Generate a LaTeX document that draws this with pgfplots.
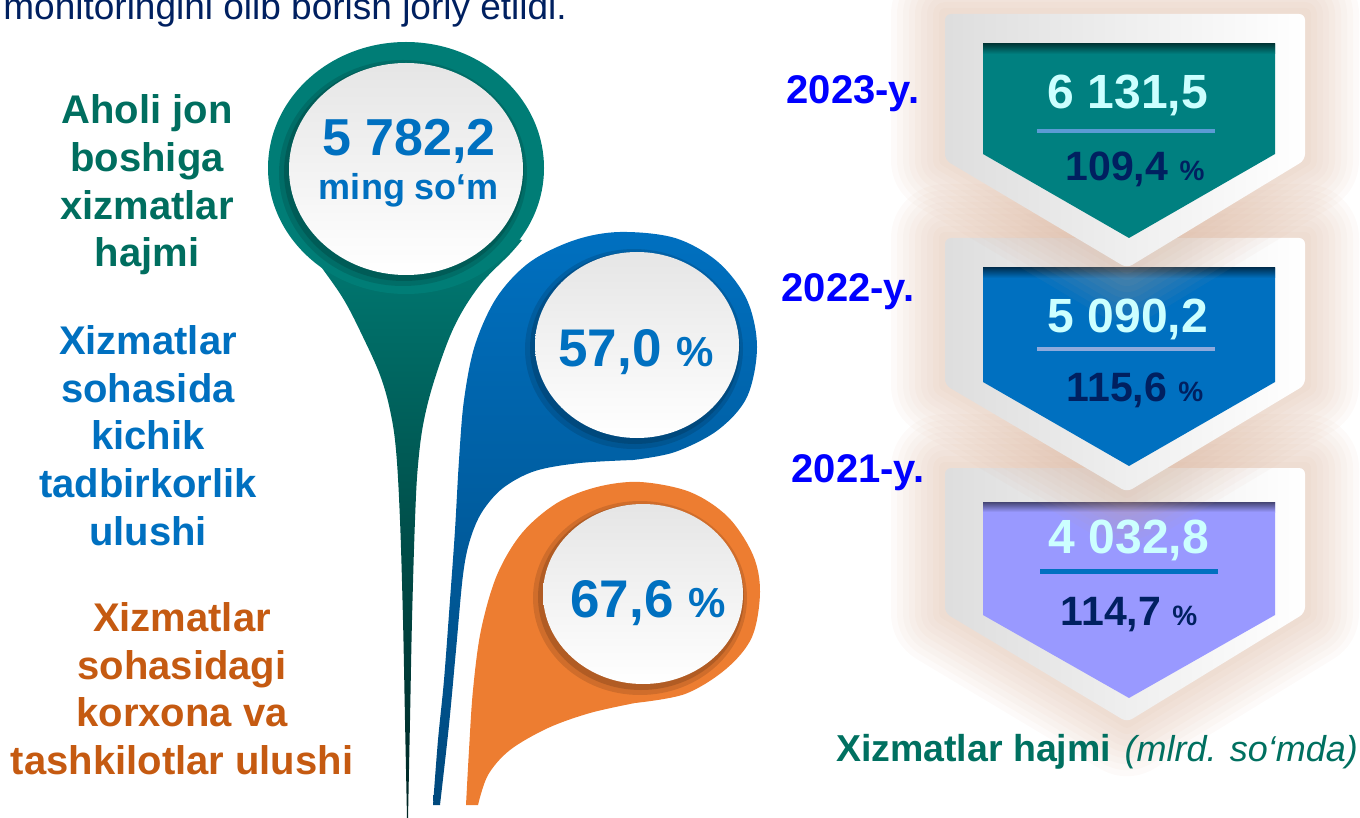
\documentclass[border=0pt]{standalone}
\usepackage{pgfplots}
\pgfplotsset{compat=1.18}
\usepackage{fontspec}
\setmainfont{Liberation Sans}

\definecolor{tealpin}{HTML}{007D76}
\definecolor{tealtxt}{HTML}{006E5F}
\definecolor{tealbox}{HTML}{008080}
\definecolor{capteal}{HTML}{007060}
\definecolor{bluepin}{HTML}{0070C0}
\definecolor{orangepin}{HTML}{ED7D31}
\definecolor{orangetxt}{HTML}{C55A11}
\definecolor{lavender}{HTML}{9999FF}
\definecolor{cyantxt}{HTML}{CCFFFF}
\definecolor{navy}{HTML}{002060}
\definecolor{yearblue}{HTML}{0000FF}
\definecolor{glowc}{HTML}{D2A488}
\definecolor{lineA}{HTML}{5B9BD5}
\definecolor{lineB}{HTML}{8FAADC}

% one line of a left-hand label
\newcommand\lbl[4]{\node[anchor=base, inner sep=0pt, text=#3, font=\bfseries\fontsize{20}{24}\selectfont] at (axis cs:#1,#2) {#4};}

% badge: frame top, frame corner, frame tip, inner top, inner corner, inner tip, colour, shadow bottom
\newcommand\badge[8]{%
  \pgfplotsinvokeforeach{6,12,...,54}{\draw[glowc, opacity=0.05, line width=##1pt, line join=round]
    (945,#1) -- (1305,#1) -- (1305,#2) -- (1127,#3) -- (945,#2) -- cycle;}
  \shade[left color=black!13, right color=white, rounded corners=3pt]
    (945,#1) -- (1305,#1) -- (1305,#2) -- (1127,#3) -- (945,#2) -- cycle;
  \fill[#7] (983,#4) -- (1275,#4) -- (1275,#5) -- (1129,#6) -- (983,#5) -- cycle;
  \shade[top color=#7!45!black, bottom color=#7] (983,#4) rectangle (1275,#8);
}

\begin{document}
\begin{tikzpicture}
\begin{axis}[
  name=ax,
  width=680pt, height=409pt, scale only axis,
  xmin=0, xmax=1360, ymin=0, ymax=818,
  y dir=reverse,
  hide axis,
  clip mode=global,
  /pgf/number format/assume math mode=true,
]

% ---- teal pin
\shade[top color=tealpin, middle color=tealpin, bottom color=tealpin!30!black]
  (406,215) -- plot[smooth, tension=0.6] coordinates {(306,246) (322,268) (344,300) (363,337) (380,375) (390,410) (396,450) (400,520) (403,620) (405,720) (407,818)}
  -- plot[smooth, tension=0.6] coordinates {(408,818) (410,720) (412,620) (415,520) (418,465) (424,420) (436,375) (455,325) (480,285) (510,254) (522,240)} -- cycle;
\fill[tealpin] (406,168) ellipse [x radius=138, y radius=126];

% ---- blue pin
\shade[top color=bluepin, middle color=bluepin, bottom color=bluepin!65!black]
  plot[smooth, tension=0.55] coordinates {(433,805) (438,740) (444,680) (450,600) (455,530) (459,460) (464,400) (475,345) (497,297) (530,262) (575,240) (620,232) (675,238) (718,262) (747,300) (757,347) (747,397) (718,430) (675,452) (633,460)}
  -- plot[smooth, tension=0.55] coordinates {(633,460) (580,463) (535,471) (503,488) (482,512) (470,540) (463,575) (456,650) (449,725) (440,805)} -- cycle;

% ---- orange pin
\fill[orangepin]
  plot[smooth, tension=0.55] coordinates {(466,805) (469,750) (473,690) (481,630) (497,575) (522,533) (557,503) (597,487) (640,482) (690,492) (728,517) (753,555) (760,592) (752,637) (726,669) (685,694) (635,703)}
  -- plot[smooth, tension=0.55] coordinates {(635,703) (590,713) (548,728) (510,750) (488,775) (478,805)} -- cycle;

% ---- white discs with soft shadow
\fill[black, opacity=0.12] (403,173) ellipse [x radius=124, y radius=113];
\fill[black, opacity=0.15] (404,172) ellipse [x radius=120, y radius=109];
\shade[top color=black!10, bottom color=white] (406,169) ellipse [x radius=117, y radius=106];
\fill[black, opacity=0.12] (634,349) ellipse [x radius=109, y radius=100];
\fill[black, opacity=0.15] (635,348) ellipse [x radius=105, y radius=96];
\shade[top color=black!10, bottom color=white] (637,345) ellipse [x radius=102, y radius=93];
\fill[black, opacity=0.12] (640,598) ellipse [x radius=107, y radius=97];
\fill[black, opacity=0.15] (641,597) ellipse [x radius=103, y radius=93];
\shade[top color=black!10, bottom color=white] (643,594) ellipse [x radius=100, y radius=90];

% ---- values in the discs
\addplot[draw=none, mark=none, point meta=explicit,
  nodes near coords={\pgfmathprintnumber[fixed, fixed zerofill, precision=1, use comma, 1000 sep={\ }]{\pgfplotspointmeta}},
  every node near coord/.append style={anchor=base, inner sep=0pt, text=bluepin, font=\bfseries\fontsize{26}{30}\selectfont}]
  table[x=x, y=y, meta=v, row sep=\\] {x y v\\ 409 156 5782.2\\};
\node[anchor=base, inner sep=0pt, text=bluepin, font=\bfseries\fontsize{18}{20}\selectfont] at (409,200) {ming so‘m};
\addplot[draw=none, mark=none, point meta=explicit,
  nodes near coords={\pgfmathprintnumber[fixed, fixed zerofill, precision=1, use comma]{\pgfplotspointmeta}\ {\fontsize{21}{22}\selectfont\%}},
  every node near coord/.append style={anchor=base, inner sep=0pt, text=bluepin, font=\bfseries\fontsize{26.5}{30}\selectfont}]
  table[x=x, y=y, meta=v, row sep=\\] {x y v\\ 636 366 57.0\\ 648 617 67.6\\};

% ---- left labels
\lbl{147}{124}{tealtxt}{Aholi jon}
\lbl{147}{172}{tealtxt}{boshiga}
\lbl{147}{220}{tealtxt}{xizmatlar}
\lbl{147}{267}{tealtxt}{hajmi}
\lbl{148}{354}{bluepin}{Xizmatlar}
\lbl{148}{402}{bluepin}{sohasida}
\lbl{148}{449}{bluepin}{kichik}
\lbl{148}{497}{bluepin}{tadbirkorlik}
\lbl{148}{545}{bluepin}{ulushi}
\lbl{182}{631}{orangetxt}{Xizmatlar}
\lbl{182}{679}{orangetxt}{sohasidagi}
\lbl{182}{726}{orangetxt}{korxona va}
\lbl{182}{774}{orangetxt}{tashkilotlar ulushi}

% ---- top line of running text (cut by the page edge, as in the source)
\node[anchor=base west, inner sep=0pt, text=navy, font=\fontsize{18.5}{20}\selectfont] at (3,20) {monitoringini olib borish joriy etildi.};

% ---- badges, bottom one first
\badge{468}{613}{722}{502}{615}{698}{lavender}{512}
\badge{238}{385}{492}{268}{382}{466}{bluepin}{278}
\badge{14}{160}{268}{44}{154}{238}{tealbox}{54}

\draw[lineA, line width=2pt] (1037,131) -- (1215,131);
\draw[lineB, line width=2pt] (1037,349) -- (1215,349);
\draw[bluepin, line width=2.5pt] (1040,571) -- (1218,571);

\addplot[draw=none, mark=none, point meta=explicit,
  nodes near coords={\pgfmathprintnumber[fixed, fixed zerofill, precision=1, use comma, 1000 sep={\ }]{\pgfplotspointmeta}},
  every node near coord/.append style={anchor=base, inner sep=0pt, text=cyantxt, font=\bfseries\fontsize{24}{28}\selectfont}]
  table[x=x, y=y, meta=v, row sep=\\] {x y v\\ 1128 109 6131.5\\ 1128 332 5090.2\\ 1129 553 4032.8\\};
\addplot[draw=none, mark=none, point meta=explicit,
  nodes near coords={\pgfmathprintnumber[fixed, fixed zerofill, precision=1, use comma]{\pgfplotspointmeta}\ {\fontsize{14}{14}\selectfont\%}},
  every node near coord/.append style={anchor=base, inner sep=0pt, text=navy, font=\bfseries\fontsize{20.5}{24}\selectfont}]
  table[x=x, y=y, meta=v, row sep=\\] {x y v\\ 1135 181 109.4\\ 1135 401 115.6\\ 1129 625 114.7\\};

% ---- year labels and caption
\node[anchor=base, inner sep=0pt, text=yearblue, font=\bfseries\fontsize{20}{24}\selectfont] at (853,104) {2023-y.};
\node[anchor=base, inner sep=0pt, text=yearblue, font=\bfseries\fontsize{20}{24}\selectfont] at (848,301) {2022-y.};
\node[anchor=base, inner sep=0pt, text=yearblue, font=\bfseries\fontsize{20}{24}\selectfont] at (858,482) {2021-y.};
\node[anchor=base, inner sep=0pt, text=capteal] at (1097,761)
  {{\bfseries\fontsize{18.75}{22}\selectfont Xizmatlar hajmi}\hspace{4pt} {\itshape\fontsize{18}{22}\selectfont (mlrd. so‘mda)}};
\end{axis}
\pgfresetboundingbox
\path[use as bounding box] (ax.south west) rectangle (ax.north east);
\end{tikzpicture}
\end{document}
